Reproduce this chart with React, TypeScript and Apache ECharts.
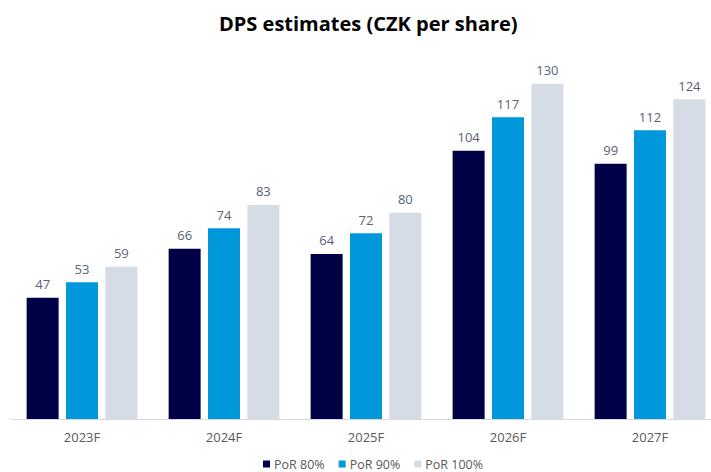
import React, { useEffect, useRef } from "react";
import * as echarts from "echarts";

const categories = ["2023F", "2024F", "2025F", "2026F", "2027F"];
const por80 = [47, 66, 64, 104, 99];
const por90 = [53, 74, 72, 117, 112];
const por100 = [59, 83, 80, 130, 124];
const seriesNames = ["PoR 80%", "PoR 90%", "PoR 100%"];
const colors = ["#000046", "#0098DB", "#D6DCE5"];

export default function App() {
  const ref = useRef<HTMLDivElement>(null);
  useEffect(() => {
    if (!ref.current) return;
    const chart = echarts.init(ref.current, null, { renderer: "svg" });
    const font = "Open Sans, Liberation Sans, sans-serif";
    const data = [por80, por90, por100];
    chart.setOption({
      animation: false,
      title: {
        text: "DPS estimates (CZK per share)",
        left: 214,
        top: 8,
        textStyle: { fontFamily: font, fontSize: 20, fontWeight: "bold", color: "#000000" },
      },
      legend: {
        top: 452,
        left: 258,
        itemWidth: 7,
        itemHeight: 7,
        itemGap: 14,
        icon: "rect",
        textStyle: { fontFamily: font, fontSize: 12.5, lineHeight: 14, color: "#595959", padding: [0, 0, 0, -1] },
        data: seriesNames,
      },
      grid: { left: 11, width: 710, top: 58, height: 361, containLabel: false, outerBoundsMode: "none" },
      xAxis: {
        type: "category",
        data: categories,
        axisLine: { lineStyle: { color: "#D9D9D9", width: 1 } },
        axisTick: { show: false },
        axisLabel: { fontFamily: font, fontSize: 13, color: "#595959", margin: 11 },
      },
      yAxis: {
        type: "value",
        min: 0,
        max: 140,
        show: false,
        splitLine: { show: false },
      },
      series: seriesNames.map((name, i) => ({
        name,
        type: "bar",
        data: data[i],
        barWidth: 32,
        barGap: "23%",
        itemStyle: { color: colors[i] },
        label: {
          show: true,
          position: "top",
          distance: 7,
          fontFamily: font,
          fontSize: 13,
          color: "#596275",
        },
      })),
    });
    return () => chart.dispose();
  }, []);
  return <div ref={ref} style={{ width: 711, height: 472, position: "absolute", left: 0, top: 0 }} />;
}
